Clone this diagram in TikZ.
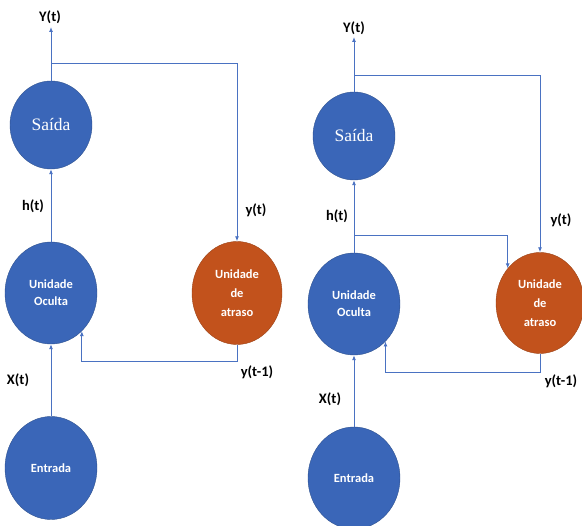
\documentclass[tikz,border=0pt]{standalone}
\usepackage{fontspec}
\setmainfont{Carlito}
\newfontfamily\saidafont{Liberation Serif}
\usetikzlibrary{arrows.meta,shapes.geometric,positioning}
\definecolor{unitblue}{HTML}{3A66B8}
\definecolor{unitline}{HTML}{2F528F}
\definecolor{delayorange}{HTML}{C2521C}
\definecolor{wireblue}{HTML}{4A72C2}
\tikzstyle{blueunit}=[ellipse,draw=unitline,fill=unitblue,inner sep=0pt,text=white,font=\bfseries\fontsize{12.5}{17}\selectfont,align=center]
\tikzstyle{delayunit}=[ellipse,draw=delayorange!80!black,fill=delayorange,inner sep=0pt,text=white,font=\bfseries\fontsize{12.5}{19}\selectfont,align=center]
\tikzstyle{wire}=[draw=wireblue,line width=0.9pt,-{Latex[length=5pt,width=4pt]}]
\tikzstyle{sig}=[font=\bfseries\fontsize{14.5}{16}\selectfont,inner sep=0pt]

\begin{document}
\begin{tikzpicture}[x=1pt,y=-1pt]
		\useasboundingbox (0,0) rectangle (582,526);
		% left network
		\begin{scope}
		\node[blueunit,minimum width=82,minimum height=88] (sai1) at (51,125) {\saidafont\mdseries\fontsize{17.5}{19}\selectfont Saída};
		\node[blueunit,minimum width=92,minimum height=102] (ocu1) at (51,293) {Unidade\\Oculta};
		\node[delayunit,minimum width=90,minimum height=103] (atr1) at (237,293) {Unidade\\de\\atraso};
		\node[blueunit,minimum width=92,minimum height=103] (ent1) at (51,468) {Entrada};
		\coordinate (out1) at (51,27);
		\coordinate (br1) at (51,63);
		
		\draw[wire] (sai1.north) -- (out1);
		\draw[wire] (br1) -| (atr1.north);
		\draw[wire] (ocu1.north) -- (sai1.south);
		\draw[wire] (ent1.north) -- (ocu1.south);
		\draw[wire] (atr1.south) -- ++(0,17) -| (ocu1.-51);
		
		\node[sig] at (50,17) {Y(t)};
		\node[sig] at (33,206) {h(t)};
		\node[sig] at (256,210) {y(t)};
		\node[sig] at (257,372) {y(t-1)};
		\node[sig] at (18,380) {X(t)};
		\end{scope}
		% right network
		\begin{scope}
		\node[blueunit,minimum width=82,minimum height=88] (sai2) at (354,136) {\saidafont\mdseries\fontsize{17.5}{19}\selectfont Saída};
		\node[blueunit,minimum width=92,minimum height=102] (ocu2) at (354,304) {Unidade\\Oculta};
		\node[delayunit,minimum width=88,minimum height=101] (atr2) at (540,303) {Unidade\\de\\atraso};
		\node[blueunit,minimum width=92,minimum height=102] (ent2) at (354,478) {Entrada};
		\coordinate (out2) at (354,37);
		\coordinate (br2) at (354,75);
		\coordinate (hb2) at (354,235);
		
		\draw[wire] (sai2.north) -- (out2);
		\draw[wire] (br2) -| (atr2.north);
		\draw[wire] (ocu2.north) -- (sai2.south);
		\draw[wire] (hb2) -| (atr2.133);
		\draw[wire] (ent2.north) -- (ocu2.south);
		\draw[wire] (atr2.south) -- ++(0,19) -| (ocu2.-50);
		
		\node[sig] at (354,28) {Y(t)};
		\node[sig] at (337,216) {h(t)};
		\node[sig] at (561,220) {y(t)};
		\node[sig] at (561,381) {y(t-1)};
		\node[sig] at (330,399) {X(t)};
		\end{scope}
\end{tikzpicture}
\end{document}
